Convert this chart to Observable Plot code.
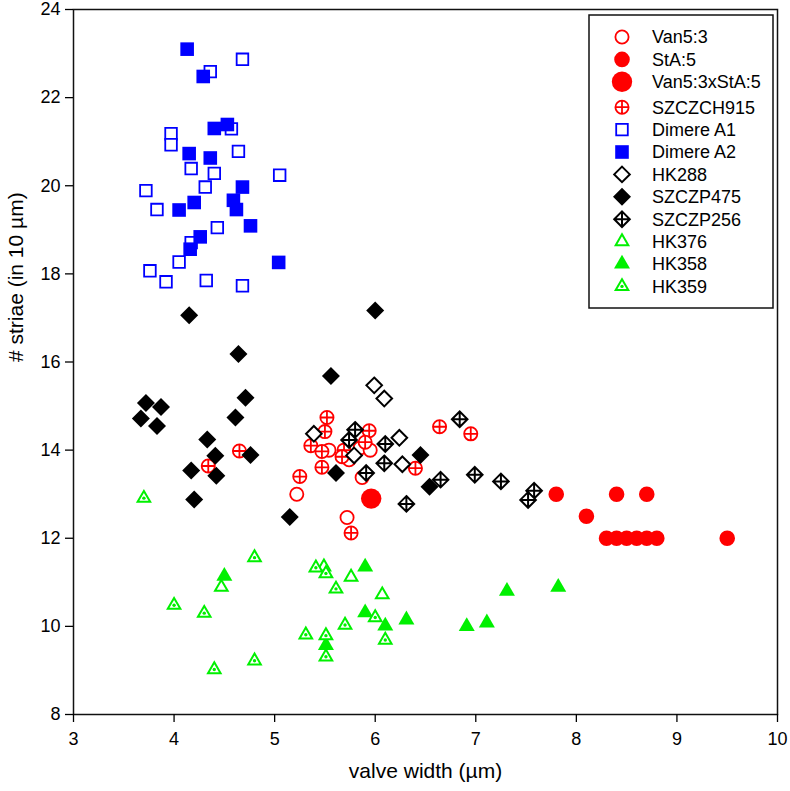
<!DOCTYPE html>
<html><head><meta charset="utf-8">
<script src="https://cdn.jsdelivr.net/npm/d3@7"></script>
<script src="https://cdn.jsdelivr.net/npm/@observablehq/plot@0.6"></script>
<style>
body{margin:0;background:#fff;}
#wrap{position:relative;width:790px;height:791px;font-family:"Liberation Sans",Arial,sans-serif;}
#legend{position:absolute;left:588px;top:14px;}
</style></head><body><div id="wrap"></div>
<script>
// ---- data (valve width in µm, striae in 10 µm) ----
const seriesNames = ["Van5:3","StA:5","Van5:3xStA:5","SZCZCH915","Dimere A1","Dimere A2","HK288","SZCZP475","SZCZP256","HK376","HK358","HK359"];

const van53X = [5.22, 5.54, 5.74, 5.85, 5.95, 5.87, 5.72];
const van53Y = [13.0, 14.0, 13.78, 14.05, 14.0, 13.38, 12.47];

const staX = [7.8, 8.4, 8.7, 8.1, 8.3, 8.4, 8.5, 8.6, 8.7, 8.8, 9.5];
const staY = [13, 13, 13, 12.5, 12, 12, 12, 12, 12, 12, 12];

const crossX = [5.96];
const crossY = [12.9];

const szczchX = [5.52, 5.50, 5.36, 5.47, 5.47, 5.25, 5.69, 5.67, 5.94, 5.90, 6.40, 6.64, 6.95, 4.65, 4.34, 5.76];
const szczchY = [14.74, 14.42, 14.10, 13.97, 13.61, 13.40, 14.0, 13.85, 14.44, 14.18, 13.59, 14.53, 14.37, 13.98, 13.64, 12.12];

const dimA1X = [4.68, 4.36, 3.97, 3.97, 4.57, 4.64, 4.17, 4.40, 5.05, 4.31, 3.72, 3.83, 4.43, 4.17, 4.05, 3.76, 3.92, 4.32, 4.68];
const dimA1Y = [22.87, 22.59, 21.18, 20.93, 21.29, 20.78, 20.39, 20.28, 20.24, 19.97, 19.89, 19.46, 19.05, 18.71, 18.27, 18.07, 17.82, 17.85, 17.73];

const dimA2X = [4.13, 4.29, 4.40, 4.53, 4.15, 4.36, 4.68, 4.20, 4.05, 4.59, 4.62, 4.76, 4.26, 4.16, 5.04];
const dimA2Y = [23.10, 22.48, 21.30, 21.39, 20.73, 20.63, 19.97, 19.62, 19.45, 19.67, 19.46, 19.09, 18.84, 18.56, 18.26];

const hk288X = [5.99, 6.09, 5.39, 6.24, 5.79, 6.27];
const hk288Y = [15.47, 15.17, 14.37, 14.28, 13.88, 13.68];

const p475X = [4.15, 4.64, 4.71, 3.72, 3.87, 3.67, 3.83, 4.61, 4.33, 4.41, 4.76, 4.17, 4.42, 4.20, 5.15, 6.00, 5.56, 6.45, 5.61, 6.54];
const p475Y = [17.06, 16.18, 15.19, 15.07, 14.98, 14.72, 14.55, 14.74, 14.24, 13.87, 13.89, 13.54, 13.42, 12.88, 12.48, 17.17, 15.68, 13.89, 13.48, 13.17];

const p256X = [6.84, 5.80, 5.74, 6.10, 6.09, 5.91, 6.65, 6.99, 7.25, 7.58, 7.52, 6.31];
const p256Y = [14.70, 14.46, 14.23, 14.14, 13.70, 13.48, 13.33, 13.44, 13.29, 13.08, 12.87, 12.78];

const hk376X = [4.47, 5.76, 6.07, 5.49];
const hk376Y = [10.89, 11.12, 10.72, 11.35];

const hk358X = [4.50, 5.90, 5.90, 5.51, 6.10, 6.31, 6.91, 7.11, 7.31, 7.82];
const hk358Y = [11.14, 11.35, 10.31, 9.57, 10.01, 10.15, 10.00, 10.08, 10.80, 10.89];

const hk359X = [3.70, 4.80, 4.00, 4.30, 5.41, 5.51, 5.61, 5.31, 5.51, 5.51, 5.70, 6.00, 6.10, 4.80, 4.40];
const hk359Y = [12.91, 11.56, 10.48, 10.30, 11.33, 11.20, 10.85, 9.81, 9.79, 9.31, 10.03, 10.20, 9.69, 9.22, 9.02];

const xTicks = [3, 4, 5, 6, 7, 8, 9, 10];
const yTicks = [8, 10, 12, 14, 16, 18, 20, 22, 24];
const xLabel = "valve width (µm)";
const yLabel = "# striae (in 10 µm)";

// ---- symbols ----
function drawShape(ctx, kind, r) {
  const s3 = Math.sqrt(3);
  switch (kind) {
    case "circle":
      ctx.moveTo(r, 0); ctx.arc(0, 0, r, 0, 2 * Math.PI); break;
    case "circlePlus":
      ctx.moveTo(r, 0); ctx.arc(0, 0, r, 0, 2 * Math.PI);
      ctx.moveTo(-r, 0); ctx.lineTo(r, 0); ctx.moveTo(0, -r); ctx.lineTo(0, r); break;
    case "square":
      ctx.rect(-r, -r, 2 * r, 2 * r); break;
    case "diamond":
      ctx.moveTo(0, -r); ctx.lineTo(r, 0); ctx.lineTo(0, r); ctx.lineTo(-r, 0); ctx.closePath(); break;
    case "diamondPlus":
      ctx.moveTo(0, -r); ctx.lineTo(r, 0); ctx.lineTo(0, r); ctx.lineTo(-r, 0); ctx.closePath();
      ctx.moveTo(-r, 0); ctx.lineTo(r, 0); ctx.moveTo(0, -r); ctx.lineTo(0, r); break;
    case "triangle": {
      const h = r * s3;
      ctx.moveTo(0, -2 * h / 3); ctx.lineTo(r, h / 3); ctx.lineTo(-r, h / 3); ctx.closePath(); break;
    }
  }
}
function sym(kind) {
  return {draw(ctx, size) { drawShape(ctx, kind, Math.sqrt(size / Math.PI)); }};
}

const RED = "#ff0000", BLUE = "#0000ff", BLK = "#000000", GRN = "#00f000";
const series = [
  {name: seriesNames[0], xs: van53X, ys: van53Y, kind: "circle", r: 6.6, fill: "white", stroke: RED, sw: 1.8},
  {name: seriesNames[1], xs: staX, ys: staY, kind: "circle", r: 7.8, fill: RED, stroke: "none", sw: 0},
  {name: seriesNames[2], xs: crossX, ys: crossY, kind: "circle", r: 10.2, fill: RED, stroke: "none", sw: 0},
  {name: seriesNames[3], xs: szczchX, ys: szczchY, kind: "circlePlus", r: 6.6, fill: "white", stroke: RED, sw: 1.8},
  {name: seriesNames[4], xs: dimA1X, ys: dimA1Y, kind: "square", r: 5.8, fill: "white", stroke: BLUE, sw: 1.8},
  {name: seriesNames[5], xs: dimA2X, ys: dimA2Y, kind: "square", r: 6.8, fill: BLUE, stroke: "none", sw: 0},
  {name: seriesNames[6], xs: hk288X, ys: hk288Y, kind: "diamond", r: 7.8, fill: "white", stroke: BLK, sw: 2},
  {name: seriesNames[7], xs: p475X, ys: p475Y, kind: "diamond", r: 9, fill: BLK, stroke: "none", sw: 0},
  {name: seriesNames[8], xs: p256X, ys: p256Y, kind: "diamondPlus", r: 7.8, fill: "white", stroke: BLK, sw: 2},
  {name: seriesNames[9], xs: hk376X, ys: hk376Y, kind: "triangle", r: 6.3, fill: "white", stroke: GRN, sw: 2},
  {name: seriesNames[10], xs: hk358X, ys: hk358Y, kind: "triangle", r: 8, fill: GRN, stroke: "none", sw: 0},
  {name: seriesNames[11], xs: hk359X, ys: hk359Y, kind: "triangle", r: 6.3, fill: "white", stroke: GRN, sw: 2, dot: true}
];

const marks = [];
for (const s of series) {
  const rows = s.xs.map((x, i) => ({x, y: s.ys[i]}));
  marks.push(Plot.dot(rows, {x: "x", y: "y", symbol: sym(s.kind), r: s.r, fill: s.fill, stroke: s.stroke, strokeWidth: s.sw}));
  if (s.dot) marks.push(Plot.dot(rows, {x: "x", y: "y", r: 1.7, fill: s.stroke, stroke: "none"}));
}

const chart = Plot.plot({
  width: 790, height: 791,
  marginLeft: 73, marginRight: 13, marginTop: 9, marginBottom: 77,
  style: {fontFamily: "'Liberation Sans', Arial, sans-serif", fontSize: "18px", color: "black", background: "white"},
  x: {domain: [3, 10]},
  y: {domain: [8, 24]},
  marks: [
    Plot.frame({stroke: "#111", strokeWidth: 1.5}),
    Plot.axisX({ticks: xTicks, tickSize: 8, tickPadding: 10, fontSize: 18, label: null, tickFormat: d => String(d), strokeWidth: 1.3}),
    Plot.axisY({ticks: yTicks, tickSize: 8, tickPadding: 5, fontSize: 18, label: null, tickFormat: d => String(d), strokeWidth: 1.3}),
    Plot.text([xLabel], {text: d => d, frameAnchor: "bottom", dy: 63, fontSize: 21, fill: "black"}),
    Plot.text([yLabel], {text: d => d, frameAnchor: "left", dx: -57, rotate: -90, fontSize: 21, fill: "black"}),
    ...marks
  ]
});
const wrap = document.getElementById("wrap");
wrap.appendChild(chart);

// ---- legend ----
const LW = 186, LH = 295;
const lg = d3.select(wrap).append("svg").attr("id", "legend").attr("width", LW).attr("height", LH);
lg.append("rect").attr("x", 1).attr("y", 1).attr("width", LW - 2).attr("height", LH - 2)
  .attr("fill", "white").attr("stroke", "#111").attr("stroke-width", 1.5);
series.forEach((s, i) => {
  const cy = 23 + i * 22.4 + (i >= 3 ? 3 : 0);
  const p = d3.path();
  drawShape(p, s.kind, s.r);
  const g = lg.append("g").attr("transform", `translate(34,${cy})`);
  g.append("path").attr("d", p.toString()).attr("fill", s.fill).attr("stroke", s.stroke).attr("stroke-width", s.sw);
  if (s.dot) g.append("circle").attr("r", 1.7).attr("fill", s.stroke);
  lg.append("text").attr("x", 64).attr("y", cy).attr("dy", "0.35em")
    .attr("font-family", "'Liberation Sans', Arial, sans-serif").attr("font-size", 18).text(s.name);
});
</script></body></html>
